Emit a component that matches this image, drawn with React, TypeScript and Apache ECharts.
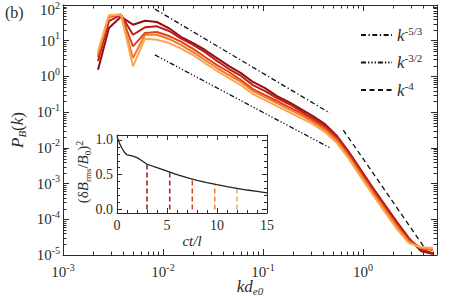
import React, { useEffect, useRef } from 'react';
import * as echarts from 'echarts';

// ---------- data ----------
const kValues = [0.00224, 0.00288, 0.0038, 0.00501, 0.0066, 0.0087, 0.0115, 0.0151, 0.02, 0.0263, 0.0347, 0.0457, 0.0603, 0.0794, 0.105, 0.138, 0.182, 0.24, 0.316, 0.417, 0.55, 0.724, 0.955, 1.26, 1.66, 2.19, 2.88, 3.8, 5.01];

const spec1 = [1.54, 22.7, 47, 28.1, 36.3, 33.4, 22.3, 12.9, 8.6, 5.5, 3.27, 1.95, 1.24, 0.7, 0.47, 0.28, 0.192, 0.122, 0.078, 0.046, 0.0214, 0.0076, 0.00239, 7.5e-4, 2.5e-4, 8.4e-5, 2.97e-5, 1.29e-5, 1.06e-5];
const spec2 = [2.7, 35.6, 53, 14.7, 23.7, 25.3, 18.7, 11.7, 7.6, 4.8, 2.7, 1.61, 1.03, 0.57, 0.39, 0.248, 0.169, 0.107, 0.068, 0.041, 0.0201, 0.0071, 0.00224, 7.0e-4, 2.34e-4, 7.8e-5, 2.79e-5, 1.46e-5, 1.13e-5];
const spec3 = [3.49, 46.1, 54, 6.97, 16.4, 17.5, 13.5, 9.4, 5.9, 3.5, 2.08, 1.33, 0.79, 0.44, 0.3, 0.205, 0.139, 0.0944, 0.06, 0.036, 0.0176, 0.0063, 0.00197, 6.2e-4, 2.06e-4, 6.9e-5, 2.61e-5, 1.56e-5, 1.37e-5];
const spec4 = [4.24, 49.2, 54, 3.28, 14.7, 14.7, 11.2, 7.6, 4.8, 2.88, 1.72, 1.09, 0.7, 0.39, 0.265, 0.18, 0.122, 0.083, 0.053, 0.0315, 0.0155, 0.0055, 0.00173, 5.4e-4, 1.81e-4, 6.1e-5, 2.3e-5, 1.56e-5, 1.46e-5];
const spec5 = [5.14, 52, 54, 1.92, 11.4, 10.7, 8.6, 6.1, 3.97, 2.37, 1.42, 0.9, 0.57, 0.32, 0.218, 0.148, 0.101, 0.068, 0.046, 0.0277, 0.0136, 0.0049, 0.00152, 4.8e-4, 1.59e-4, 5.3e-5, 2.15e-5, 1.66e-5, 1.56e-5];
const spectra = [spec1, spec2, spec3, spec4, spec5];
const curveColors = ['#930e0e', '#bd1c16', '#de4419', '#f2782a', '#fba650'];

const refNames = ['k^-5/3', 'k^-3/2', 'k^-4'];
const refExponents = ['-5/3', '-3/2', '-4'];
const refK = [[0.0083, 0.468], [0.0083, 0.468], [0.635, 4.17]];
const refP = [[77, 0.094], [4.0, 0.01], [0.0316, 1.53e-5]];
const refDash = [[5, 2.5, 1.3, 2.5], [5, 2, 1.3, 2, 1.3, 2, 1.3, 2], [5, 3.5]];

const tValues = [0, 0.25, 0.5, 0.75, 1, 1.5, 2, 2.5, 3, 4, 5, 6, 7, 8, 9, 10, 11, 12, 13, 14, 15];
const energy = [1.05, 0.95, 0.88, 0.82, 0.786, 0.77, 0.745, 0.7, 0.65, 0.6, 0.55, 0.5, 0.457, 0.42, 0.386, 0.357, 0.33, 0.305, 0.28, 0.26, 0.24];
const snapTimes = [3.0, 5.27, 7.53, 9.77, 12.0];
const snapLevels = [0.65, 0.54, 0.445, 0.36, 0.305];

const minorMantissas = [2, 3, 4, 5, 6, 7, 8, 9];
const xDecades = [1e-3, 1e-2, 1e-1, 1];
const yDecades = [1e-5, 1e-4, 1e-3, 1e-2, 1e-1, 1, 10];

// ---------- style ----------
const SERIF = 'Liberation Serif, Times New Roman, DejaVu Serif, serif';
const INK = '#2b2b2b';

const xMinor: number[] = [];
xDecades.forEach(d => minorMantissas.forEach(m => { if (d * m < 5.5) xMinor.push(d * m); }));
const yMinor: number[] = [];
yDecades.forEach(d => minorMantissas.forEach(m => yMinor.push(d * m)));

const powRich = {
  b: { fontSize: 15, fontFamily: SERIF, color: INK, lineHeight: 20 },
  s: { fontSize: 10, fontFamily: SERIF, color: INK, verticalAlign: 'top', lineHeight: 10 },
  e: { fontSize: 10, fontFamily: SERIF, lineHeight: 10 },
};
const powLabel = (v: number) => {
  const e = Math.round(Math.log10(v));
  return e === 2 ? `{e| }\n{b|10}{s|${e}}` : `{b|10}{s|${e}}`;
};

export default function App() {
  const ref = useRef<HTMLDivElement>(null);
  useEffect(() => {
    document.body.style.margin = '0';
    if (!ref.current) return;
    const chart = echarts.init(ref.current, undefined, { renderer: 'svg' });

    const tickLine = (x1: number, y1: number, x2: number, y2: number) => ({
      type: 'line', shape: { x1, y1, x2, y2 }, style: { stroke: INK, lineWidth: 1 },
    });

    const mainAxisCommon = {
      type: 'log', logBase: 10,
      axisLine: { show: true, onZero: false, lineStyle: { color: INK, width: 1 } },
      axisTick: { show: true, inside: true, length: 6, lineStyle: { color: INK } },
      splitLine: { show: false },
      nameMoveOverlap: false,
    };
    const insetAxisCommon = {
      type: 'value',
      axisLine: { show: true, onZero: false, lineStyle: { color: INK, width: 1 } },
      axisTick: { show: true, inside: true, length: 5, lineStyle: { color: INK } },
      minorTick: { show: true, splitNumber: 5, length: 3, lineStyle: { color: INK } },
      splitLine: { show: false },
      nameMoveOverlap: false,
    };

    const series: any[] = [];
    spectra.forEach((s, i) => {
      series.push({
        type: 'line', xAxisIndex: 0, yAxisIndex: 0, symbol: 'none', z: 3,
        data: kValues.map((k, j) => [k, s[j]]),
        lineStyle: { color: curveColors[i], width: 2 },
      });
    });
    refNames.forEach((n, i) => {
      series.push({
        name: n, type: 'line', xAxisIndex: 0, yAxisIndex: 0, symbol: 'none', z: 4,
        data: [[refK[i][0], refP[i][0]], [refK[i][1], refP[i][1]]],
        itemStyle: { color: '#111' },
        lineStyle: { color: '#111', width: 1.3, type: refDash[i] },
      });
    });
    series.push({
      type: 'custom', xAxisIndex: 0, yAxisIndex: 0, silent: true, z: 5,
      data: xMinor.map(v => [v, 1]),
      renderItem: (params: any, api: any) => {
        const x = Math.round(api.coord([api.value(0), 1])[0]) + 0.5;
        const cs = params.coordSys;
        const b = cs.y + cs.height;
        return { type: 'group', children: [tickLine(x, b, x, b - 3.5), tickLine(x, cs.y, x, cs.y + 3.5)] };
      },
    });
    series.push({
      type: 'custom', xAxisIndex: 0, yAxisIndex: 0, silent: true, z: 5,
      data: yMinor.map(v => [1, v]),
      renderItem: (params: any, api: any) => {
        const y = Math.round(api.coord([1, api.value(1)])[1]) + 0.5;
        const cs = params.coordSys;
        const r = cs.x + cs.width;
        return { type: 'group', children: [tickLine(cs.x, y, cs.x + 3.5, y), tickLine(r, y, r - 3.5, y)] };
      },
    });
    series.push({
      type: 'line', xAxisIndex: 2, yAxisIndex: 2, symbol: 'none', z: 6,
      data: tValues.map((t, j) => [t, energy[j]]),
      lineStyle: { color: '#222', width: 1.3 },
    });
    snapTimes.forEach((t, i) => {
      series.push({
        type: 'line', xAxisIndex: 2, yAxisIndex: 2, symbol: 'none', z: 5,
        data: [[t, 0], [t, snapLevels[i]]],
        lineStyle: { color: curveColors[i], width: 1.5, type: [5, 3] },
      });
    });

    const option: any = {
      animation: false,
      backgroundColor: '#fff',
      textStyle: { fontFamily: SERIF },
      grid: [
        { left: 63, right: 34, top: 5, bottom: 42, outerBoundsMode: 'none', containLabel: false },
        { left: 117, right: 204, top: 135, bottom: 84, outerBoundsMode: 'none', containLabel: false, show: true, backgroundColor: '#fff', borderWidth: 0 },
      ],
      legend: {
        orient: 'vertical', left: 355, top: 20, itemWidth: 31, itemHeight: 14, itemGap: 9,
        selectedMode: false,
        data: refNames,
        itemStyle: { opacity: 0 },
        formatter: (name: string) => `{i|k}{s|${refExponents[refNames.indexOf(name)]}}`,
        textStyle: {
          fontFamily: SERIF, color: INK,
          rich: {
            i: { fontFamily: SERIF, fontStyle: 'italic', fontSize: 17, color: INK, lineHeight: 20 },
            s: { fontFamily: SERIF, fontSize: 11, color: INK, verticalAlign: 'top', lineHeight: 10 },
          },
        },
      },
      xAxis: [
        {
          ...mainAxisCommon, gridIndex: 0, position: 'bottom', min: 0.001, max: 5.5,
          axisLabel: { show: true, margin: 7, formatter: powLabel, rich: powRich, showMaxLabel: false },
          name: '{i|kd}{sub|e0}', nameLocation: 'middle', nameGap: 21,
          nameTextStyle: {
            color: INK, fontFamily: SERIF,
            rich: {
              i: { fontFamily: SERIF, fontStyle: 'italic', fontSize: 17, color: INK, lineHeight: 20 },
              sub: { fontFamily: SERIF, fontStyle: 'italic', fontSize: 11, color: INK, verticalAlign: 'bottom', lineHeight: 12 },
            },
          },
        },
        { ...mainAxisCommon, gridIndex: 0, position: 'top', min: 0.001, max: 5.5, axisLabel: { show: false } },
        {
          ...insetAxisCommon, gridIndex: 1, position: 'bottom', min: 0, max: 15, splitNumber: 3,
          axisLabel: { show: true, margin: 5, fontFamily: SERIF, fontSize: 14, color: INK },
          name: 'ct/l', nameLocation: 'middle', nameGap: 20,
          nameTextStyle: { fontFamily: SERIF, fontStyle: 'italic', fontSize: 15, color: INK },
        },
        { ...insetAxisCommon, gridIndex: 1, position: 'top', min: 0, max: 15, splitNumber: 3, axisLabel: { show: false } },
      ],
      yAxis: [
        {
          ...mainAxisCommon, gridIndex: 0, position: 'left', min: 1e-5, max: 100,
          axisLabel: { show: true, margin: 3, formatter: powLabel, rich: powRich },
          name: '{i|P}{sub|B}{n|(}{i|k}{n|)}', nameLocation: 'middle', nameGap: 36,
          nameTextStyle: {
            color: INK, fontFamily: SERIF,
            rich: {
              i: { fontFamily: SERIF, fontStyle: 'italic', fontSize: 17, color: INK, lineHeight: 20 },
              n: { fontFamily: SERIF, fontSize: 17, color: INK, lineHeight: 20 },
              sub: { fontFamily: SERIF, fontStyle: 'italic', fontSize: 11, color: INK, verticalAlign: 'bottom', lineHeight: 12 },
            },
          },
        },
        { ...mainAxisCommon, gridIndex: 0, position: 'right', min: 1e-5, max: 100, axisLabel: { show: false } },
        {
          ...insetAxisCommon, gridIndex: 1, position: 'left', min: -0.05, max: 1.07, splitNumber: 2,
          axisLabel: {
            show: true, margin: 4, fontFamily: SERIF, fontSize: 14, color: INK,
            formatter: (v: number) => (Math.abs(v * 2 - Math.round(v * 2)) < 1e-6 ? v.toFixed(1) : ''),
          },
        },
        { ...insetAxisCommon, gridIndex: 1, position: 'right', min: -0.05, max: 1.07, splitNumber: 2, axisLabel: { show: false } },
      ],
      graphic: [
        { type: 'text', left: 5, top: 4, style: { text: '(b)', fontFamily: SERIF, fontSize: 16, fill: INK } },
        {
          type: 'text', x: 83, y: 172, rotation: Math.PI / 2,
          style: {
            text: '{n|(δ}{i|B}{sub|rms}{n|/}{i|B}{sub|0}{n|)}{sup|2}',
            align: 'center', verticalAlign: 'middle', fill: INK, fontFamily: SERIF,
            rich: {
              i: { fontFamily: SERIF, fontStyle: 'italic', fontSize: 15, fill: INK, lineHeight: 18 },
              n: { fontFamily: SERIF, fontSize: 15, fill: INK, lineHeight: 18 },
              sub: { fontFamily: SERIF, fontSize: 9, fill: INK, verticalAlign: 'bottom', lineHeight: 10 },
              sup: { fontFamily: SERIF, fontSize: 10, fill: INK, verticalAlign: 'top', lineHeight: 10 },
            },
          },
        },
      ],
      series,
    };
    chart.setOption(option);
    return () => chart.dispose();
  }, []);
  return <div ref={ref} style={{ width: 471, height: 297 }} />;
}
